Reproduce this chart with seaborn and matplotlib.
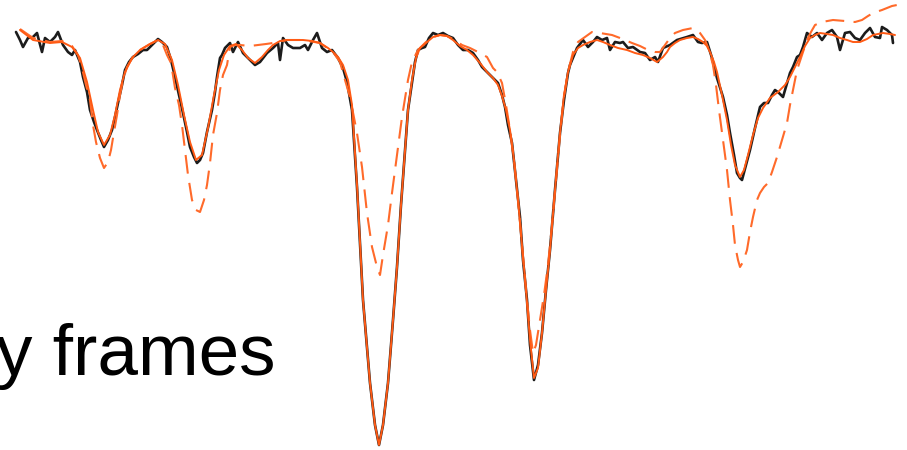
import numpy as np
import pandas as pd
import matplotlib
matplotlib.use("Agg")
import matplotlib.pyplot as plt
import seaborn as sns

# Observed spectrum (detector pixel, flux in arbitrary counts)
obs_x = [16, 20, 23, 28, 33, 37, 42, 45, 50, 55, 58, 63, 68, 72, 75, 80, 83, 87, 90, 94,
         97, 101, 104, 108, 112, 115, 118, 122, 125, 129, 133, 138, 143, 147, 150, 154, 158, 162, 167, 171,
         175, 179, 183, 187, 190, 194, 197, 200, 203, 207, 212, 215, 217, 220, 222, 225, 230, 233, 238, 243,
         248, 255, 260, 267, 273, 278, 280, 283, 288, 293, 300, 305, 308, 313, 317, 322, 327, 332, 338, 343,
         347, 352, 357, 363, 370, 375, 379, 383, 388, 393, 397, 401, 405, 408, 412, 415, 418, 422, 425, 429,
         433, 438, 443, 448, 453, 458, 463, 468, 473, 478, 482, 487, 492, 498, 502, 505, 508, 512, 516, 520,
         523, 527, 530, 534, 538, 542, 546, 550, 555, 560, 564, 568, 570, 577, 583, 588, 593, 597, 602, 607,
         610, 615, 620, 623, 628, 633, 640, 645, 650, 655, 658, 663, 670, 677, 687, 693, 698, 702, 707, 712,
         717, 723, 727, 730, 734, 737, 740, 742, 746, 750, 755, 760, 764, 768, 772, 775, 779, 783, 790, 793,
         797, 800, 803, 807, 812, 817, 822, 827, 832, 837, 840, 845, 850, 855, 860, 865, 870, 875, 880, 882,
         887, 892, 893]
obs_flux = [418, 410, 403, 412, 413, 417, 398, 412, 408, 413, 418, 405, 398, 395, 400, 388, 373, 358, 340, 328,
            320, 310, 303, 310, 320, 333, 347, 365, 380, 388, 393, 396, 400, 400, 403, 407, 411, 408, 403, 390,
            373, 355, 337, 318, 303, 293, 287, 290, 297, 318, 340, 358, 373, 392, 395, 402, 407, 398, 408, 397,
            392, 385, 388, 397, 402, 407, 390, 412, 405, 402, 402, 405, 400, 410, 417, 402, 398, 400, 392, 382,
            368, 340, 263, 150, 67, 25, 5, 25, 67, 130, 183, 245, 300, 340, 367, 388, 400, 402, 403, 412,
            417, 415, 417, 414, 412, 405, 400, 400, 397, 390, 383, 378, 373, 367, 355, 343, 325, 307, 270, 233,
            190, 150, 105, 70, 85, 117, 160, 200, 260, 317, 350, 377, 385, 402, 410, 403, 408, 413, 410, 412,
            400, 408, 407, 408, 402, 403, 398, 397, 390, 393, 388, 402, 405, 410, 413, 415, 408, 407, 408, 392,
            372, 353, 335, 317, 295, 277, 272, 270, 285, 300, 322, 343, 347, 347, 355, 360, 357, 353, 377, 383,
            393, 395, 403, 417, 413, 417, 410, 417, 420, 413, 400, 417, 418, 412, 410, 417, 422, 413, 412, 423,
            420, 415, 407]

# Fitted model (solid)
fit_x = [20, 33, 50, 62, 72, 80, 87, 93, 98, 104, 110, 115, 120, 125, 132, 140, 150, 158, 165, 172,
         178, 184, 190, 196, 202, 208, 214, 219, 224, 230, 236, 242, 248, 255, 262, 268, 273, 280, 287, 295,
         303, 312, 320, 328, 333, 338, 343, 348, 352, 357, 363, 370, 375, 379, 383, 388, 393, 397, 401, 405,
         408, 412, 416, 420, 427, 433, 440, 447, 453, 460, 467, 473, 480, 487, 493, 498, 502, 506, 510, 514,
         518, 522, 526, 530, 534, 538, 542, 546, 550, 555, 560, 564, 568, 573, 578, 583, 590, 597, 603, 610,
         618, 627, 635, 643, 650, 657, 663, 667, 670, 675, 680, 687, 693, 698, 703, 707, 710, 714, 717, 722,
         727, 731, 735, 740, 744, 748, 753, 758, 763, 770, 778, 785, 790, 795, 800, 805, 810, 815, 820, 827,
         833, 840, 847, 853, 860, 867, 873, 878, 883, 890, 895]
fit_flux = [420, 410, 407, 408, 403, 392, 368, 340, 318, 305, 315, 335, 360, 378, 392, 400, 406, 410, 406, 390,
            365, 335, 308, 290, 295, 322, 355, 380, 395, 404, 406, 400, 392, 387, 393, 400, 405, 409, 410, 410,
            410, 409, 407, 402, 398, 393, 385, 370, 345, 265, 150, 67, 25, 5, 25, 67, 130, 183, 245, 300,
            340, 370, 392, 402, 408, 413, 415, 414, 410, 404, 400, 395, 387, 378, 372, 365, 354, 340, 320, 290,
            250, 205, 160, 110, 72, 82, 117, 160, 200, 260, 317, 355, 378, 395, 402, 405, 408, 410, 408, 405,
            402, 400, 397, 395, 392, 388, 393, 398, 403, 407, 410, 412, 413, 411, 408, 404, 398, 388, 378, 355,
            330, 305, 285, 273, 280, 295, 315, 332, 342, 352, 358, 365, 373, 383, 393, 404, 412, 415, 417, 416,
            415, 412, 410, 408, 408, 411, 415, 416, 417, 416, 415]

# Template model (dashed)
model_x = [20, 33, 50, 62, 72, 78, 82, 86, 90, 93, 96, 100, 104, 108, 111, 114, 117, 120, 123, 127,
           133, 140, 150, 158, 163, 167, 171, 175, 179, 182, 185, 188, 192, 196, 200, 204, 207, 210, 213, 217,
           220, 223, 227, 230, 235, 240, 250, 258, 266, 273, 287, 303, 320, 333, 340, 345, 350, 357, 362, 367,
           372, 377, 380, 383, 388, 392, 398, 402, 408, 412, 418, 423, 430, 440, 447, 455, 462, 470, 478, 487,
           493, 497, 502, 506, 510, 514, 518, 522, 526, 530, 533, 536, 540, 544, 548, 552, 556, 560, 564, 568,
           573, 578, 585, 592, 600, 612, 620, 632, 640, 648, 655, 660, 665, 670, 675, 683, 693, 700, 705, 709,
           713, 716, 719, 723, 727, 730, 733, 735, 738, 740, 743, 747, 750, 753, 757, 760, 764, 768, 772, 777,
           782, 787, 790, 793, 796, 798, 802, 807, 811, 815, 822, 833, 845, 855, 862, 868, 873, 882, 892, 897]
model_flux = [421, 412, 408, 409, 404, 395, 382, 365, 350, 325, 308, 292, 282, 288, 300, 318, 335, 355, 370, 383,
              393, 400, 406, 410, 405, 395, 387, 362, 345, 325, 300, 275, 250, 240, 238, 250, 265, 287, 315, 337,
              360, 375, 385, 403, 405, 405, 404, 405, 406, 407, 410, 410, 407, 398, 388, 370, 353, 317, 283, 237,
              203, 183, 175, 195, 225, 257, 303, 333, 370, 388, 400, 405, 412, 415, 414, 410, 405, 402, 398, 393,
              382, 378, 367, 345, 320, 290, 250, 205, 160, 120, 97, 105, 130, 155, 185, 225, 270, 315, 353, 378,
              398, 408, 413, 418, 417, 415, 412, 407, 404, 400, 398, 398, 405, 412, 417, 420, 422, 417, 410, 400,
              385, 365, 340, 310, 280, 250, 225, 205, 190, 183, 188, 200, 218, 233, 250, 257, 263, 267, 278, 293,
              310, 327, 345, 360, 375, 383, 395, 410, 418, 425, 428, 430, 429, 428, 430, 434, 437, 440, 444, 445]

label_text = "y frames"

sns.set_theme(style="white")
plt.rcParams["font.family"] = ["Liberation Sans", "DejaVu Sans"]

fig = plt.figure(figsize=(9.07, 4.5), dpi=100)
ax = fig.add_axes([0, 0, 1, 1])

orange = "#FF5A14"
sns.lineplot(x=obs_x, y=obs_flux, ax=ax, sort=False, estimator=None,
             color="#1c1c1c", linewidth=1.9, zorder=2)
sns.lineplot(x=model_x, y=model_flux, ax=ax, sort=False, estimator=None,
             color="#FF6A2A", linewidth=1.5, zorder=3)
ax.lines[-1].set_dashes([9, 4.5])
sns.lineplot(x=fit_x, y=fit_flux, ax=ax, sort=False, estimator=None,
             color=orange, linewidth=1.4, zorder=4)

ax.text(276, 75, label_text, ha="right", va="baseline", fontsize=52.5,
        color="black", zorder=5)

ax.set_xlim(0, 907)
ax.set_ylim(0, 450)
ax.axis("off")

fig.savefig("out.png", dpi=100, facecolor="white")
